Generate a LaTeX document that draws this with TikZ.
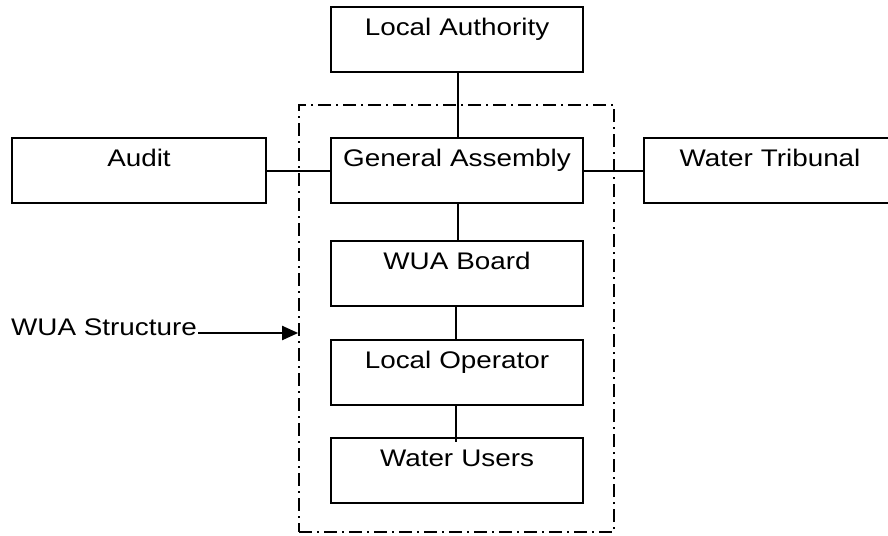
\documentclass[tikz,border=0pt]{standalone}
\usepackage{fontspec}
\setmainfont{Liberation Sans}[FakeStretch=1.16]
\usetikzlibrary{arrows.meta}

\tikzset{
  orgbox/.style={draw, line width=2pt, rectangle, inner sep=0pt,
    minimum width=252pt, text width=252pt, align=center,
    text height=28.5pt, text depth=36.5pt,
    font=\fontsize{24pt}{28pt}\selectfont},
  link/.style={line width=2pt},
  frameline/.style={draw, line width=1.7pt,
    dash pattern=on 13pt off 5pt on 2pt off 5pt}
}

\begin{document}
\begin{tikzpicture}[x=1pt,y=-1pt]
  \useasboundingbox (0,0) rectangle (888,535);

  % the WUA structure frame
  \node[frameline, minimum width=315pt, minimum height=427pt, inner sep=0pt]
    (frame) at (456.5,318.5) {};

  % organisational units
  \node[orgbox] (la) at (457,6)   [anchor=north] {Local Authority};
  \node[orgbox] (ga) at (457,137) [anchor=north] {General Assembly};
  \node[orgbox, minimum width=254pt, text width=254pt] (au) at (139,137) [anchor=north] {Audit};
  \node[orgbox] (wt) at (770,137) [anchor=north] {Water Tribunal};
  \node[orgbox] (wb) at (457,240) [anchor=north] {WUA Board};
  \node[orgbox] (lo) at (457,339) [anchor=north] {Local Operator};
  \node[orgbox] (wu) at (457,437) [anchor=north] {Water Users};

  % links between the units
  \draw[link] ([xshift=1pt]la.south) -- ([xshift=1pt]ga.north);
  \draw[link] (au.east) -- (ga.west);
  \draw[link] (ga.east) -- (wt.west);
  \draw[link] ([xshift=1pt]ga.south) -- ([xshift=1pt]wb.north);
  \draw[link] ([xshift=-1pt]wb.south) -- ([xshift=-1pt]lo.north);
  \draw[link] ([xshift=-1pt]lo.south) -- ([xshift=-1pt,yshift=-5pt]wu.north);

  % label pointing at the frame
  \node[inner sep=0pt, anchor=base west, font=\fontsize{24pt}{28pt}\selectfont]
    (ws) at (11,335) {WUA Structure};
  \coordinate (wsend) at ([xshift=1pt,yshift=2pt]ws.base east);
  \draw[line width=2pt, -{Triangle[length=16pt,width=14pt]}]
    (wsend) -- (wsend -| frame.west);
\end{tikzpicture}
\end{document}
